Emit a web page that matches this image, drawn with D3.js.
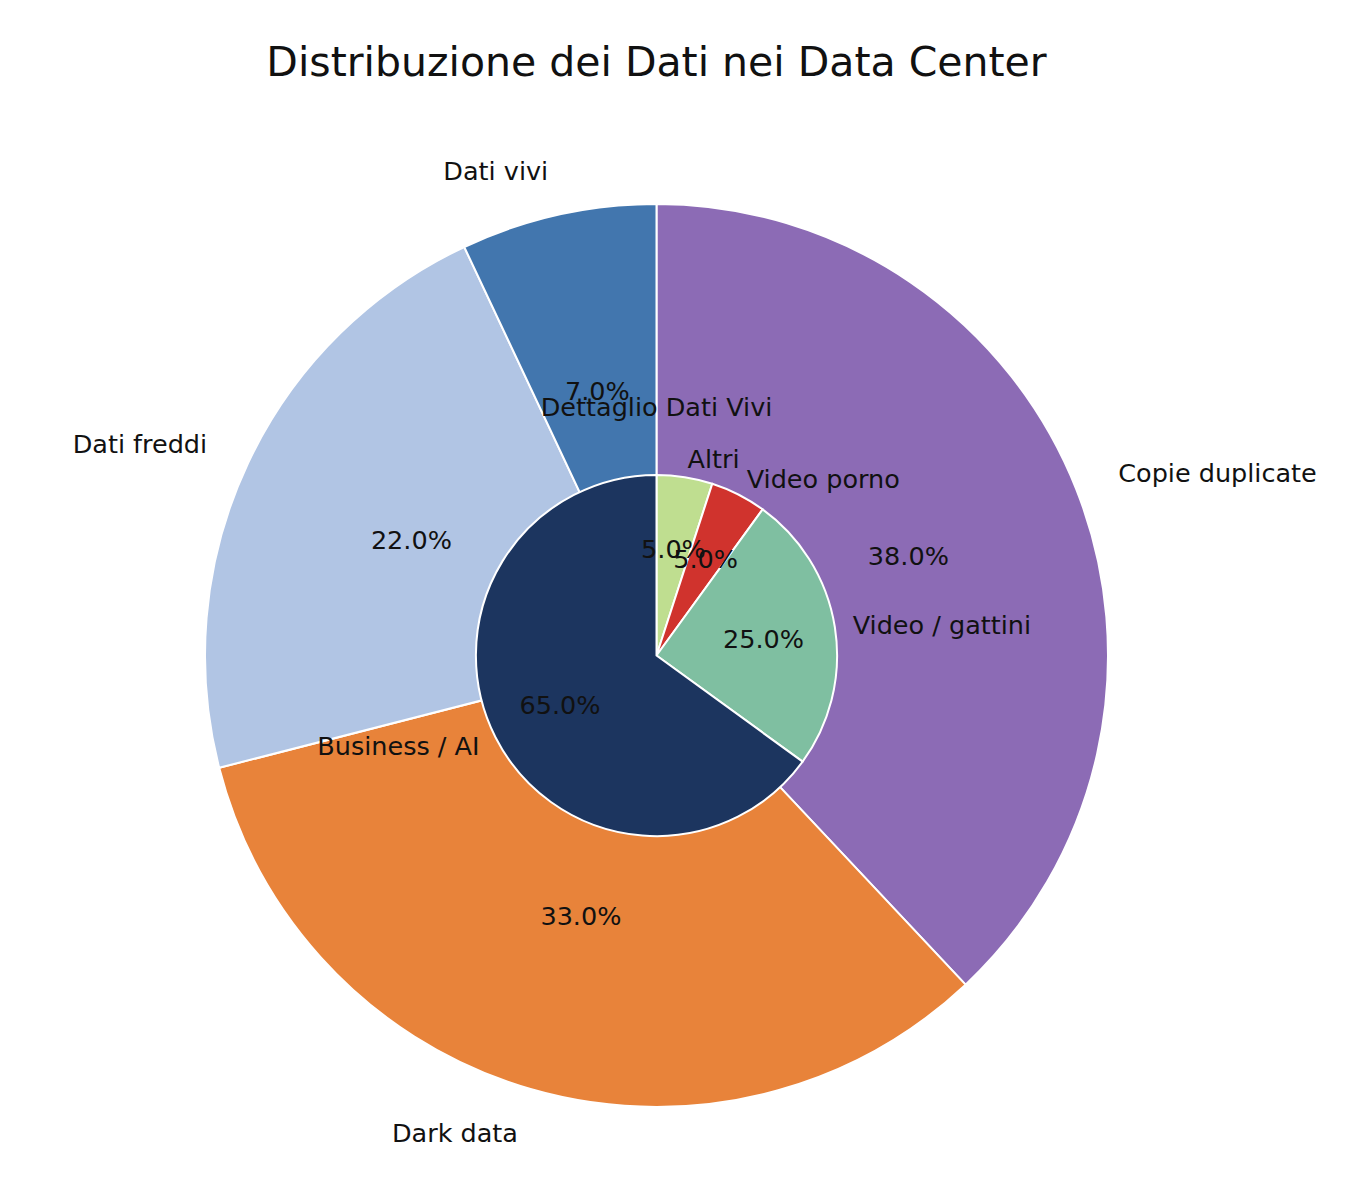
<!DOCTYPE html>
<html>
<head>
<meta charset="utf-8">
<script src="https://cdn.jsdelivr.net/npm/d3@7"></script>
<style>
  html, body { margin: 0; padding: 0; background: #fff; }
  svg { display: block; font-family: "DejaVu Sans", sans-serif; }
</style>
</head>
<body>
<svg id="chart" width="1370" height="1182"></svg>
<script>
// ---- Data ----
const outerLabels = ["Copie duplicate", "Dark data", "Dati freddi", "Dati vivi"];
const outerValues = [38, 33, 22, 7];
const outerColors = ["#8c6bb5", "#e8833a", "#b1c5e4", "#4276ae"];

const innerLabels = ["Altri", "Video porno", "Video / gattini", "Business / AI"];
const innerValues = [5, 5, 25, 65];
const innerColors = ["#bfde90", "#d0332d", "#7fbfa1", "#1c355f"];

const titleText = "Distribuzione dei Dati nei Data Center";
const innerTitleText = "Dettaglio Dati Vivi";

// ---- Layout ----
const svg = d3.select("#chart");
const cx = 656.5, cy = 655.5;
const R = 451.5;
const r = R * 0.4;
const labelFont = 25.5;
const textColor = "#111";
const textDy = "0.36em";

svg.append("text")
  .attr("x", cx).attr("y", 76)
  .attr("text-anchor", "middle")
  .attr("font-size", 41)
  .attr("fill", textColor)
  .text(titleText);

const g = svg.append("g").attr("transform", `translate(${cx},${cy})`);

const pie = d3.pie().sort(null).value(d => d.value).startAngle(0).endAngle(2 * Math.PI);

const outerData = pie(outerLabels.map((l, i) => ({ label: l, value: outerValues[i], color: outerColors[i] })));
const innerData = pie(innerLabels.map((l, i) => ({ label: l, value: innerValues[i], color: innerColors[i] })));

const outerArc = d3.arc().innerRadius(0).outerRadius(R);
const innerArc = d3.arc().innerRadius(0).outerRadius(r);

g.selectAll("path.outer").data(outerData).join("path")
  .attr("class", "outer")
  .attr("d", outerArc)
  .attr("fill", d => d.data.color)
  .attr("stroke", "#fff").attr("stroke-width", 2).attr("stroke-linejoin", "round");

g.selectAll("path.inner").data(innerData).join("path")
  .attr("class", "inner")
  .attr("d", innerArc)
  .attr("fill", d => d.data.color)
  .attr("stroke", "#fff").attr("stroke-width", 2).attr("stroke-linejoin", "round");

const total = a => d3.sum(a);

function pos(d, radius) {
  const a = (d.startAngle + d.endAngle) / 2;
  return [radius * Math.sin(a), -radius * Math.cos(a)];
}

function addTexts(data, radius, sum) {
  // category labels
  data.forEach(d => {
    const [x, y] = pos(d, radius * 1.1);
    g.append("text")
      .attr("x", x).attr("y", y).attr("dy", textDy)
      .attr("text-anchor", x > 0 ? "start" : "end")
      .attr("font-size", labelFont)
      .attr("fill", textColor)
      .text(d.data.label);
  });
  // percentages
  data.forEach(d => {
    const [x, y] = pos(d, radius * 0.6);
    g.append("text")
      .attr("x", x).attr("y", y).attr("dy", textDy)
      .attr("text-anchor", "middle")
      .attr("font-size", labelFont)
      .attr("fill", textColor)
      .text((d.data.value / sum * 100).toFixed(1) + "%");
  });
}

addTexts(outerData, R, total(outerValues));
addTexts(innerData, r, total(innerValues));

g.append("text")
  .attr("x", 0).attr("y", -249).attr("dy", textDy)
  .attr("text-anchor", "middle")
  .attr("font-size", labelFont)
  .attr("fill", textColor)
  .text(innerTitleText);
</script>
</body>
</html>
